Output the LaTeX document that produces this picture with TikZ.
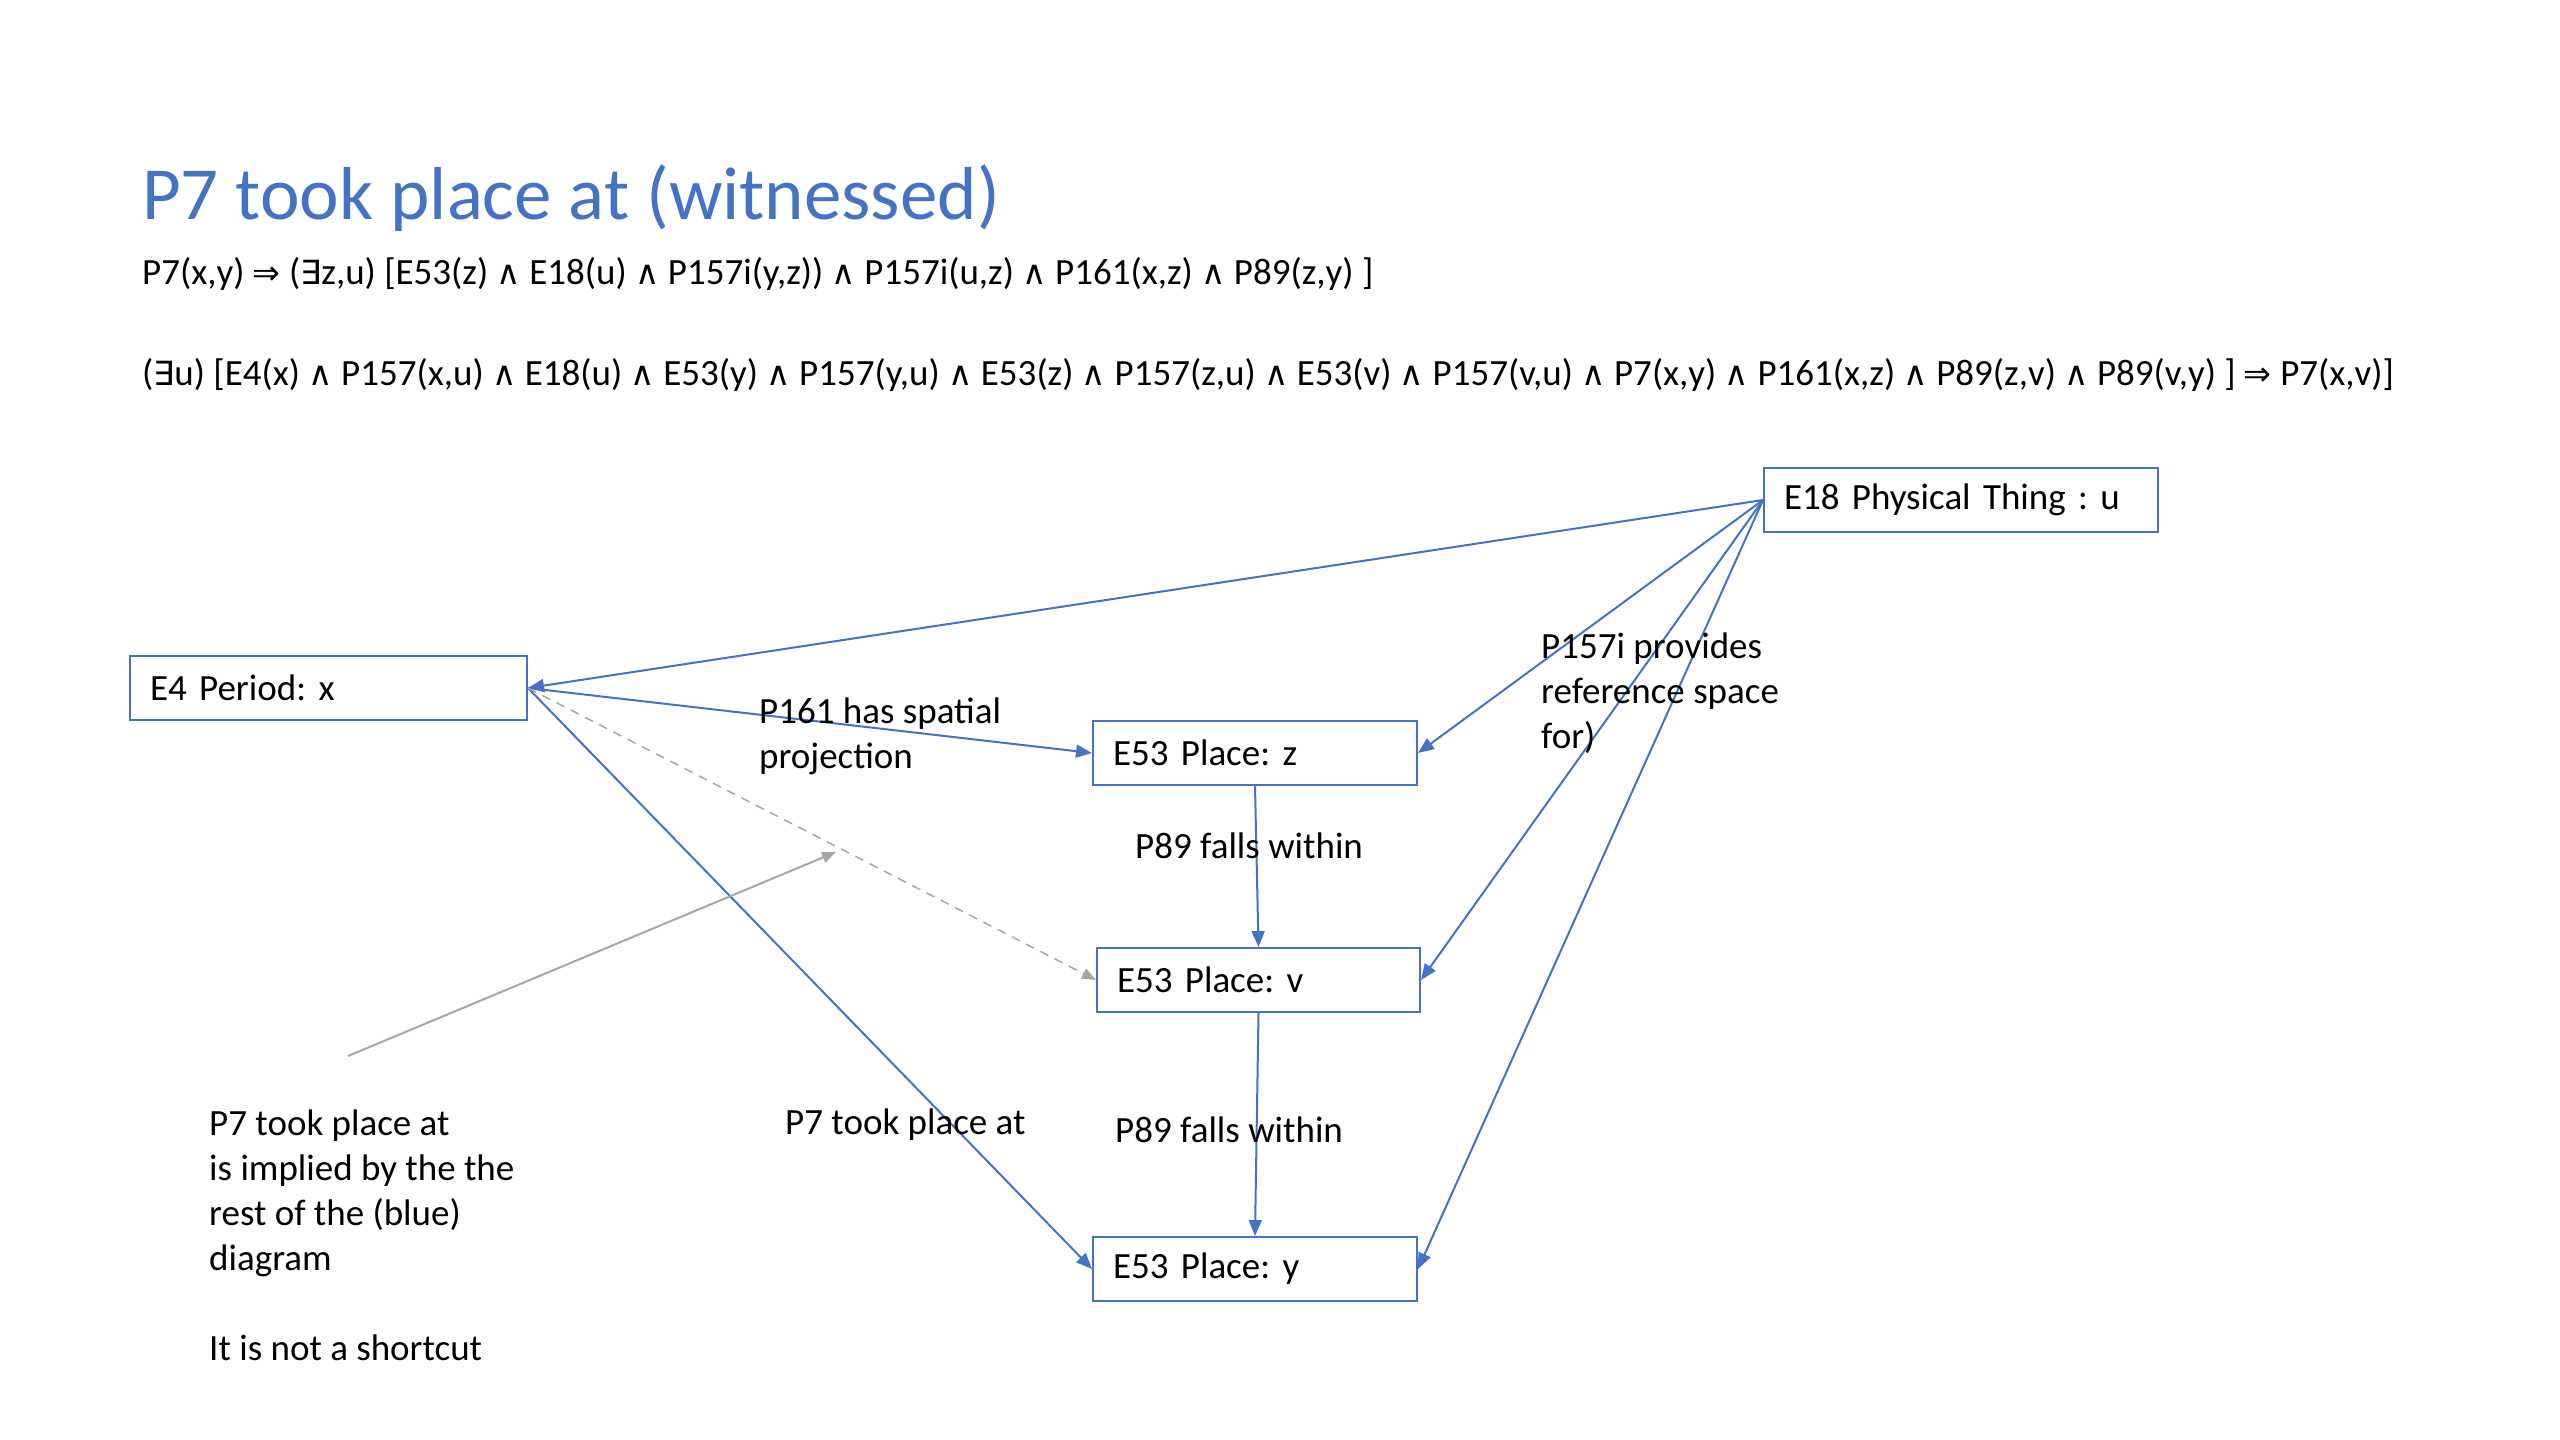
\documentclass[tikz,border=0pt]{standalone}
\usepackage{fontspec}
\setmainfont{Carlito}
\newfontfamily\symf[Scale=0.9]{DejaVu Sans}
\usetikzlibrary{arrows.meta}
\definecolor{oblue}{HTML}{4472C4}
\definecolor{ogray}{HTML}{A6A6A6}
\newcommand\myand{{\symf ∧}}
\newcommand\myimp{{\symf ⇒}}
\newcommand\myex{{\symf ∃}}
\frenchspacing
\begin{document}
\begin{tikzpicture}[x=1pt,y=-1pt,
  every node/.style={font=\fontsize{37}{45}\selectfont, inner sep=0pt},
  ebox/.style={draw=oblue, line width=2pt, fill=white, minimum height=64pt, inner xsep=20pt, align=left, anchor=north west},
  rel/.style={draw=oblue, line width=2pt, -{Triangle[length=16pt,width=13pt]}},
  grayrel/.style={draw=ogray, line width=2pt, -{Triangle[length=14pt,width=11pt]}},
  lbl/.style={anchor=west, align=left},
  formula/.style={anchor=west, font=\fontsize{37}{45}\selectfont}]
\useasboundingbox[fill=white] (0,0) rectangle (2560,1440);

\node[anchor=west, text=oblue, font=\fontsize{75}{88}\selectfont] (title) at (142,198) {P7 took place at (witnessed)};
\node[formula] (f1) at (142,274) {P7(x,y) \myimp{} (\myex z,u) [E53(z) \myand{} E18(u) \myand{} P157i(y,z)) \myand{} P157i(u,z) \myand{} P161(x,z) \myand{} P89(z,y) ]};
\node[formula] (f2) at (142,375) {(\myex u) [E4(x) \myand{} P157(x,u) \myand{} E18(u) \myand{} E53(y) \myand{} P157(y,u) \myand{} E53(z) \myand{} P157(z,u) \myand{} E53(v) \myand{} P157(v,u) \myand{} P7(x,y) \myand{} P161(x,z) \myand{} P89(z,v) \myand{} P89(v,y) ] \myimp{} P7(x,v)]};

\node[ebox, text width=354pt] (e18) at (1763,467) {E18 Physical Thing : u};
\node[ebox, text width=357pt] (e4) at (129,655) {E4 Period: x};
\node[ebox, text width=284pt] (z) at (1092,720) {E53 Place: z};
\node[ebox, text width=283pt] (v) at (1096,947) {E53 Place: v};
\node[ebox, text width=284pt] (y) at (1092,1236) {E53 Place: y};

\draw[rel] (e18.west) -- (e4.east);
\draw[rel] (e4.east) -- (z.west);
\draw[rel] (e4.east) -- (y.west);
\draw[grayrel, line width=1.5pt, dash pattern=on 9pt off 7pt] (e4.east) -- (v.west);
\draw[rel] (e18.west) -- (z.east);
\draw[rel] (e18.west) -- (v.east);
\draw[rel] (e18.west) -- (y.east);
\draw[rel] (z.south) -- (v.north);
\draw[rel] (v.south) -- (y.north);
\coordinate (g1) at (348,1056);
\coordinate (g2) at (836,852);
\draw[grayrel] (g1) -- (g2);

\node[lbl] (l161) at (759,736) {P161 has spatial\\projection};
\node[lbl] (l157) at (1541,693) {P157i provides\\reference space\\for)};
\node[lbl] (l89a) at (1135,846) {P89 falls within};
\node[lbl] (l89b) at (1115,1130) {P89 falls within};
\node[lbl] (l7) at (785,1125) {P7 took place at};
\node[lbl] (note) at (209,1235) {P7 took place at\\is implied by the the\\rest of the (blue)\\diagram\\[45pt]It is not a shortcut};
\end{tikzpicture}
\end{document}
